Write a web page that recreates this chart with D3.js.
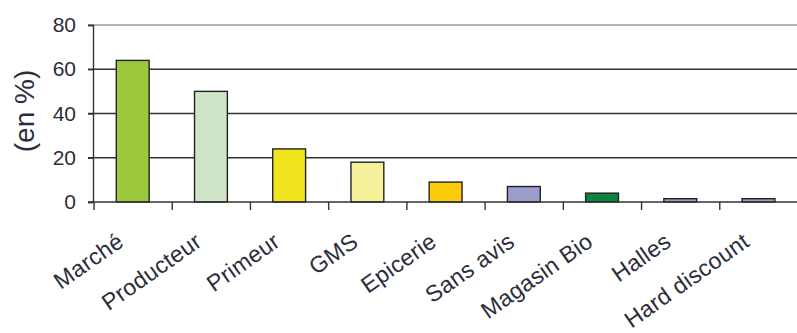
<!DOCTYPE html>
<html>
<head>
<meta charset="utf-8">
<script src="https://cdn.jsdelivr.net/npm/d3@7"></script>
<style>
  html, body { margin: 0; padding: 0; background: #fff; }
  svg { display: block; font-family: "Liberation Sans", Arial, sans-serif; }
</style>
</head>
<body>
<svg id="chart" width="797" height="333"></svg>
<script>
// Lieux d'achat cités (en %)
const categories = ["Marché", "Producteur", "Primeur", "GMS", "Epicerie", "Sans avis", "Magasin Bio", "Halles", "Hard discount"];
const values = [64, 50, 24, 18, 9, 7, 4, 1.5, 1.5];
const barColors = ["#9bc83c", "#d0e5c5", "#f0e51c", "#f6f29c", "#fecb0a", "#9b9ccc", "#0b8442", "#9b9ccc", "#9b9ccc"];
const yTicks = [0, 20, 40, 60, 80];
const yLabel = "(en %)";

const svg = d3.select("#chart");
const ink = "#2b2d3a";

const x = d3.scaleBand().domain(categories).range([94, 798]).padding(0);
const y = d3.scaleLinear().domain([0, 80]).range([202, 25]);

// horizontal grid lines
svg.append("g")
  .selectAll("line")
  .data(yTicks.filter(t => t > 0))
  .join("line")
  .attr("x1", 88).attr("x2", 797)
  .attr("y1", d => y(d)).attr("y2", d => y(d))
  .attr("stroke", d => d === 80 ? "#9a9a9a" : "#333")
  .attr("stroke-width", 1.4);

// y axis
const yAxis = svg.append("g")
  .attr("transform", "translate(93,0)")
  .call(d3.axisLeft(y).tickValues(yTicks).tickSize(5).tickPadding(12));
yAxis.select(".domain").attr("stroke", "#333").attr("stroke-width", 1.4);
yAxis.selectAll(".tick line").attr("stroke", "#333").attr("stroke-width", 1.4);
yAxis.selectAll(".tick text")
  .attr("fill", ink)
  .attr("font-size", 21)
  .attr("font-family", "Liberation Sans, Arial, sans-serif");

// y axis title
svg.append("text")
  .attr("transform", "translate(34,111) rotate(-90)")
  .attr("text-anchor", "middle")
  .attr("font-size", 28)
  .attr("fill", ink)
  .text(yLabel);

// bars
const bw = x.bandwidth();
svg.append("g")
  .selectAll("rect")
  .data(categories)
  .join("rect")
  .attr("x", d => x(d) + bw * 0.285)
  .attr("width", bw * 0.42)
  .attr("y", (d, i) => y(values[i]))
  .attr("height", (d, i) => y(0) - y(values[i]))
  .attr("fill", (d, i) => barColors[i])
  .attr("stroke", "#222")
  .attr("stroke-width", 1.4);

// x axis baseline and band-boundary ticks
svg.append("line")
  .attr("x1", 88).attr("x2", 797)
  .attr("y1", y(0)).attr("y2", y(0))
  .attr("stroke", "#333").attr("stroke-width", 1.4);

svg.append("g")
  .selectAll("line")
  .data(categories)
  .join("line")
  .attr("x1", d => x(d)).attr("x2", d => x(d))
  .attr("y1", y(0)).attr("y2", y(0) + 8)
  .attr("stroke", "#333").attr("stroke-width", 1.4);

// rotated category labels
svg.append("g")
  .selectAll("text")
  .data(categories)
  .join("text")
  .attr("transform", d => `translate(${x(d) + bw / 2 - 8},${245}) rotate(-35)`)
  .attr("text-anchor", "end")
  .attr("font-size", 23)
  .attr("letter-spacing", 0.3)
  .attr("fill", ink)
  .text(d => d);
</script>
</body>
</html>
